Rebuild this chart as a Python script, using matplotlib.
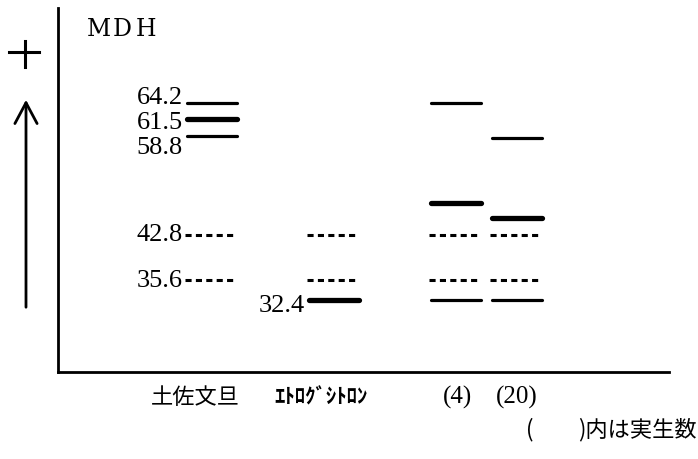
import matplotlib
matplotlib.use("Agg")
import matplotlib.pyplot as plt
from matplotlib.lines import Line2D

plt.rcParams['font.family'] = ['Liberation Serif', 'Noto Sans CJK JP', 'DejaVu Sans']

# ---- data ----
title = "MDH"
lane_names = ["土佐文旦", "ｴﾄﾛｸﾞｼﾄﾛﾝ", "(4)", "(20)"]
lane_pos = [1, 2, 3, 3.5]
# bands: lane index, mobility, style ('thin', 'thick', 'dash')
band_lane = [0, 0, 0, 0, 0,
             1, 1, 1,
             2, 2, 2, 2, 2,
             3, 3, 3, 3, 3]
band_value = [64.2, 61.5, 58.8, 42.8, 35.6,
              42.8, 35.6, 32.4,
              64.2, 48.1, 42.8, 35.6, 32.4,
              58.5, 45.6, 42.8, 35.6, 32.4]
band_style = ['thin', 'thick', 'thin', 'dash', 'dash',
              'dash', 'dash', 'thick',
              'thin', 'thick', 'dash', 'dash', 'thin',
              'thin', 'thick', 'dash', 'dash', 'thin']
# labelled bands
label_lane = [0, 0, 0, 0, 0, 1]
label_value = [64.2, 61.5, 58.8, 42.8, 35.6, 32.4]
label_dy_px = [-5, 4, 12, 0, 1, 6]
note_text = "内は実生数"

W, H = 698, 459
fig = plt.figure(figsize=(W / 100, H / 100), dpi=100)
fig.patch.set_facecolor('white')

ax = fig.add_axes([58 / W, 1 - 372 / H, (669 - 58) / W, (372 - 8) / H])
ax.set_xlim(-0.262, 4.746)
ax.set_ylim(20.79, 79.46)
for s in ['top', 'right']:
    ax.spines[s].set_visible(False)
for s in ['left', 'bottom']:
    ax.spines[s].set_linewidth(2.0)
    ax.spines[s].set_color('black')
ax.set_xticks([])
ax.set_yticks([])

half = 0.205
for li, v, st in zip(band_lane, band_value, band_style):
    x = lane_pos[li]
    if st == 'dash':
        ax.plot([x - half - 0.015, x + half - 0.015], [v, v], color='black', lw=2.2,
                ls=(0, (2.0, 1.4)), solid_capstyle='butt', dash_capstyle='butt')
    elif st == 'thick':
        ax.plot([x - half, x + half], [v, v], color='black', lw=3.8,
                solid_capstyle='round')
    else:
        ax.plot([x - half, x + half], [v, v], color='black', lw=2.3,
                solid_capstyle='round')

for li, v, dy in zip(label_lane, label_value, label_dy_px):
    x = lane_pos[li] - half
    ax.annotate(f"{v:.1f}", xy=(x, v), xytext=(-3, -dy * 0.72),
                textcoords='offset points', ha='right', va='center',
                fontsize=19, family='Liberation Serif')

# title, letter-spaced
for ch, px in zip(title, [87, 113, 136]):
    fig.text(px / W, 1 - 30 / H, ch, fontsize=17, family='DejaVu Serif',
             ha='left', va='center')

# lane labels below baseline
label_cx = [195, 321, 457, 517]
fig.text(label_cx[0] / W, 1 - 397 / H, lane_names[0], fontsize=16,
         family='Noto Sans CJK JP', ha='center', va='center')
fig.text(label_cx[1] / W, 1 - 397 / H, lane_names[1], fontsize=15,
         family='Noto Sans CJK JP', fontweight='bold', ha='center', va='center')
fig.text(label_cx[2] / W, 1 - 397 / H, lane_names[2], fontsize=18,
         family='Liberation Serif', ha='center', va='center')
fig.text(label_cx[3] / W, 1 - 397 / H, lane_names[3], fontsize=18,
         family='Liberation Serif', ha='center', va='center')

# note
fig.text(526 / W, 1 - 430 / H, "(", fontsize=16,
         family='Noto Sans CJK JP', ha='left', va='center')
fig.text(697 / W, 1 - 430 / H, ")" + note_text, fontsize=16,
         family='Noto Sans CJK JP', ha='right', va='center')

# plus sign
fig.add_artist(Line2D([9 / W, 39 / W], [1 - 52 / H, 1 - 52 / H], color='black', lw=2.2,
                      transform=fig.transFigure))
fig.add_artist(Line2D([25 / W, 25 / W], [1 - 41 / H, 1 - 67 / H], color='black', lw=2.2,
                      transform=fig.transFigure))

# arrow
fig.add_artist(matplotlib.patches.FancyArrowPatch(
    (26 / W, 1 - 310 / H), (26 / W, 1 - 97 / H), transform=fig.transFigure,
    arrowstyle='->,head_length=0.75,head_width=0.4', mutation_scale=20,
    color='black', lw=2.0))

fig.savefig("out.png", dpi=100, facecolor='white')
